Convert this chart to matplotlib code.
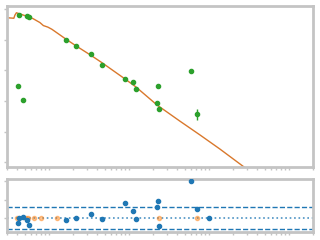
import numpy as np
import matplotlib
matplotlib.use("Agg")
import matplotlib.pyplot as plt

# measured points
x_obs = [0.413, 0.425, 0.473, 0.531, 0.557, 1.645, 2.19, 3.35, 4.64, 8.99,
         11.3, 12.3, 22.6, 23.2, 23.7, 60.1, 71.4]
y_obs = [2.48, 4.82, 2.03, 4.77, 4.74, 3.99, 3.79, 3.54, 3.18, 2.71,
         2.62, 2.38, 1.92, 2.48, 1.74, 2.97, 1.56]
y_err = [0.03, 0.03, 0.03, 0.03, 0.03, 0.03, 0.03, 0.03, 0.03, 0.03,
         0.03, 0.03, 0.03, 0.03, 0.03, 0.05, 0.17]

# model curve
x_mod = [0.290, 0.365, 0.376, 0.393, 0.422, 0.460, 0.523, 0.631, 0.772, 0.854,
         0.972, 1.09, 1.30, 1.63, 2.18, 3.35, 4.60, 8.91, 12.2, 22.4,
         43.4, 77.2, 137, 266, 325]
y_mod = [4.72, 4.70, 4.80, 4.88, 4.85, 4.82, 4.77, 4.69, 4.56, 4.46,
         4.41, 4.34, 4.20, 4.02, 3.80, 3.49, 3.25, 2.72, 2.46, 1.87,
         1.34, 0.89, 0.43, -0.13, -0.30]

# residuals
x_res = [0.413, 0.425, 0.473, 0.531, 0.557, 1.645, 2.19, 3.35, 4.64, 8.99,
         11.3, 12.3, 22.6, 23.2, 23.7, 60.1, 71.4, 100.9]
res = [-0.27, 0.0, 0.05, -0.11, -0.38, -0.10, 0.0, 0.22, -0.05, 0.81,
       0.38, -0.05, 0.59, 0.92, -0.43, 2.0, 0.49, 0.0]
x_lim_pts = [0.402, 0.511, 0.551, 0.655, 0.801, 1.27, 23.9, 71.4]
res_lim = [0, 0, 0, 0, 0, 0, 0, 0]
band = 0.6

blue, orange, green = '#1f77b4', '#ff7f0e', '#2ca02c'
line_c = '#d9782c'
gray = '#c4c4c4'

fig = plt.figure(figsize=(3.2, 2.4), dpi=100)
ax1 = fig.add_axes([0.022, 0.304, 0.956, 0.671])
ax2 = fig.add_axes([0.022, 0.033, 0.956, 0.221])

ax1.plot(x_mod, y_mod, color=line_c, lw=1.0, zorder=2)
ax1.errorbar(x_obs, y_obs, yerr=y_err, fmt='o', color=green, ms=3,
             elinewidth=1, capsize=0, zorder=3)
ax1.set_ylim(-0.16, 5.1)
ax1.set_yticks([0, 1, 2, 3, 4, 5])

ax2.axhline(band, color=blue, ls='--', lw=1)
ax2.axhline(-band, color=blue, ls='--', lw=1)
ax2.axhline(0, color=blue, ls=':', lw=1.2, alpha=0.8)
ax2.plot(x_lim_pts, res_lim, 'o', color=orange, ms=3, alpha=0.45, zorder=3)
ax2.plot(x_res, res, 'o', color=blue, ms=3, zorder=4)
ax2.set_ylim(-0.74, 2.12)
ax2.set_yticks([0, 1, 2])

for ax in (ax1, ax2):
    ax.set_xscale('log')
    ax.set_xlim(0.3, 2000)
    for s in ax.spines.values():
        s.set_color(gray)
        s.set_linewidth(2)
    ax.tick_params(which='both', colors=gray, length=2, width=1,
                   labelleft=False, labelbottom=False)

fig.savefig('out.png', dpi=100)
